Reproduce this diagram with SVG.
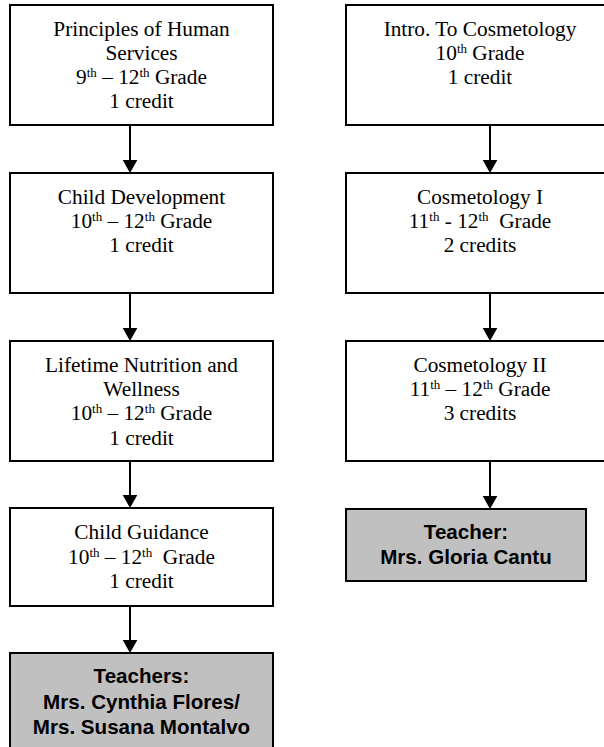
<svg xmlns="http://www.w3.org/2000/svg" width="604" height="747" viewBox="0 0 604 747">
<defs>
<style>
.box{fill:#ffffff;stroke:#000000;stroke-width:2}
.gray{fill:#c0c0c0;stroke:#000000;stroke-width:2}
.t{font-family:"Liberation Serif","Times New Roman",serif;font-size:21.3px;fill:#000;text-anchor:middle}
.b{font-family:"Liberation Sans",Arial,sans-serif;font-size:20.6px;font-weight:bold;fill:#000;text-anchor:middle}
.sup{font-size:13px}
.conn{stroke:#000;stroke-width:2;fill:none;marker-end:url(#arr)}
</style>
<marker id="arr" markerUnits="userSpaceOnUse" markerWidth="14" markerHeight="16" refX="3" refY="7.3" orient="auto">
<path d="M0,0 L13,7.3 L0,14.6 z" fill="#000"/>
</marker>
</defs>
<rect width="604" height="747" fill="#ffffff"/>
<g id="connectors">
<line class="conn" x1="130" y1="125" x2="130" y2="163"/>
<line class="conn" x1="130" y1="293" x2="130" y2="331"/>
<line class="conn" x1="130" y1="461" x2="130" y2="498"/>
<line class="conn" x1="130" y1="606" x2="130" y2="643"/>
<line class="conn" x1="490" y1="125" x2="490" y2="163"/>
<line class="conn" x1="490" y1="293" x2="490" y2="331"/>
<line class="conn" x1="490" y1="461" x2="490" y2="499"/>
</g>
<g id="principles">
<rect class="box" x="10" y="5" width="263" height="120"/>
<text class="t" x="141.5" y="35.7">Principles of Human</text>
<text class="t" x="141.5" y="60">Services</text>
<text class="t" x="141.5" y="84.3">9<tspan class="sup" dy="-7">th</tspan><tspan dy="7"> – 12</tspan><tspan class="sup" dy="-7">th</tspan><tspan dy="7"> Grade</tspan></text>
<text class="t" x="141.5" y="108.3">1 credit</text>
</g>
<g id="child-development">
<rect class="box" x="10" y="173" width="263" height="120"/>
<text class="t" x="141.5" y="204">Child Development</text>
<text class="t" x="141.5" y="228">10<tspan class="sup" dy="-7">th</tspan><tspan dy="7"> – 12</tspan><tspan class="sup" dy="-7">th</tspan><tspan dy="7"> Grade</tspan></text>
<text class="t" x="141.5" y="252">1 credit</text>
</g>
<g id="lifetime-nutrition">
<rect class="box" x="10" y="341" width="263" height="120"/>
<text class="t" x="141.5" y="371.7">Lifetime Nutrition and</text>
<text class="t" x="141.5" y="396">Wellness</text>
<text class="t" x="141.5" y="420.3">10<tspan class="sup" dy="-7">th</tspan><tspan dy="7"> – 12</tspan><tspan class="sup" dy="-7">th</tspan><tspan dy="7"> Grade</tspan></text>
<text class="t" x="141.5" y="444.6">1 credit</text>
</g>
<g id="child-guidance">
<rect class="box" x="10" y="508" width="263" height="98"/>
<text class="t" x="141.5" y="539.3">Child Guidance</text>
<text class="t" x="141.5" y="563.5" xml:space="preserve">10<tspan class="sup" dy="-7">th</tspan><tspan dy="7"> – 12</tspan><tspan class="sup" dy="-7">th</tspan><tspan dy="7">  Grade</tspan></text>
<text class="t" x="141.5" y="587.6">1 credit</text>
</g>
<g id="teachers-left">
<rect class="gray" x="10" y="653" width="263" height="110"/>
<text class="b" x="141.5" y="683">Teachers:</text>
<text class="b" x="141.5" y="708.5">Mrs. Cynthia Flores/</text>
<text class="b" x="141.5" y="734">Mrs. Susana Montalvo</text>
</g>
<g id="intro-cosmetology">
<rect class="box" x="346" y="5" width="268" height="120"/>
<text class="t" x="480" y="35.7">Intro. To Cosmetology</text>
<text class="t" x="480" y="60">10<tspan class="sup" dy="-7">th</tspan><tspan dy="7"> Grade</tspan></text>
<text class="t" x="480" y="84.3">1 credit</text>
</g>
<g id="cosmetology-1">
<rect class="box" x="346" y="173" width="268" height="120"/>
<text class="t" x="480" y="204">Cosmetology I</text>
<text class="t" x="480" y="228.3" xml:space="preserve">11<tspan class="sup" dy="-7">th</tspan><tspan dy="7"> - 12</tspan><tspan class="sup" dy="-7">th</tspan><tspan dy="7">  Grade</tspan></text>
<text class="t" x="480" y="252">2 credits</text>
</g>
<g id="cosmetology-2">
<rect class="box" x="346" y="341" width="268" height="120"/>
<text class="t" x="480" y="371.7">Cosmetology II</text>
<text class="t" x="480" y="396">11<tspan class="sup" dy="-7">th</tspan><tspan dy="7"> – 12</tspan><tspan class="sup" dy="-7">th</tspan><tspan dy="7"> Grade</tspan></text>
<text class="t" x="480" y="420.3">3 credits</text>
</g>
<g id="teacher-right">
<rect class="gray" x="346" y="509" width="240" height="72"/>
<text class="b" x="466" y="539">Teacher:</text>
<text class="b" x="466" y="564">Mrs. Gloria Cantu</text>
</g>
</svg>
